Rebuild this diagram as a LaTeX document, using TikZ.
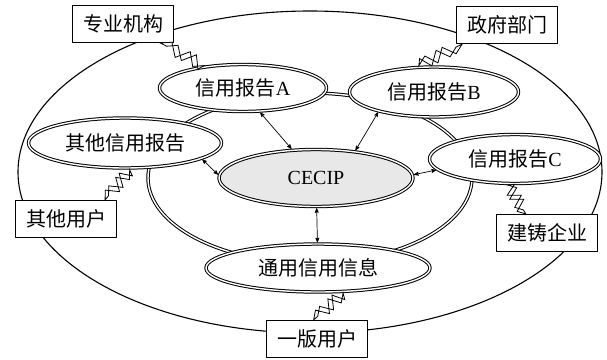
\documentclass[tikz,border=0pt]{standalone}
\usepackage{fontspec}
\setmainfont{Liberation Serif}
\newfontfamily\cjk{Noto Sans CJK SC}
\usetikzlibrary{arrows,calc,shapes.geometric}
\definecolor{ebebeb}{rgb}{0.91,0.91,0.91}

\begin{document}
\begin{tikzpicture}[line cap=round,line join=round,>=stealth',x=1pt,y=-1pt,
	every node/.style={font=\fontsize{20}{24}\selectfont},
	report/.style={ellipse,draw,fill=white,double,double distance=1.4pt,line width=1pt,inner sep=0pt,outer sep=1.7pt},
	party/.style={rectangle,draw,fill=white,line width=1.1pt,minimum width=101pt,minimum height=37pt,inner sep=0pt},
	bolt/.style={fill=white,line width=0.8pt,line join=miter,to path={
		-- ($(\tikztostart)!.20!(\tikztotarget)!6pt!90:(\tikztotarget)$)
		-- ($(\tikztostart)!.40!(\tikztotarget)!6pt!-90:(\tikztotarget)$)
		-- ($(\tikztostart)!.62!(\tikztotarget)!6pt!90:(\tikztotarget)$)
		-- ($(\tikztostart)!.80!(\tikztotarget)!6pt!-90:(\tikztotarget)$)
		-- (\tikztotarget)
		-- ($(\tikztostart)!.92!(\tikztotarget)!6pt!-90:(\tikztotarget)$)
		-- ($(\tikztostart)!.76!(\tikztotarget)!6pt!90:(\tikztotarget)$)
		-- ($(\tikztostart)!.54!(\tikztotarget)!6pt!-90:(\tikztotarget)$)
		-- ($(\tikztostart)!.34!(\tikztotarget)!6pt!90:(\tikztotarget)$)
		-- ($(\tikztostart)!.14!(\tikztotarget)$) -- cycle}},
	link/.style={<->,line width=0.7pt}]
	\useasboundingbox (0,0) rectangle (607,359);
		\draw[line width=1.1pt] (310,172) ellipse [x radius=292pt, y radius=161pt];
		\draw[double,double distance=1.4pt,line width=1pt] (310,178) ellipse [x radius=162pt, y radius=85pt];
		\node[report,minimum width=167pt,minimum height=47pt] (ra) at (243,88) {{\cjk 信用报告}A};
		\node[report,minimum width=169pt,minimum height=50pt] (rb) at (434,92) {{\cjk 信用报告}B};
		\node[report,minimum width=193pt,minimum height=50pt] (rq) at (125,143) {\cjk 其他信用报告};
		\node[report,minimum width=171pt,minimum height=49pt] (rc) at (515,159) {{\cjk 信用报告}C};
		\node[report,fill=ebebeb,minimum width=194pt,minimum height=57pt] (ce) at (316,178) {CECIP};
		\node[report,minimum width=224pt,minimum height=48pt] (ty) at (318,268) {\cjk 通用信用信息};
		\node[party] (zy) at (123,24) {\cjk 专业机构};
		\node[party] (zf) at (507,25) {\cjk 政府部门};
		\node[party] (qy) at (66,219) {\cjk 其他用户};
		\node[party] (jz) at (547,233) {\cjk 建铸企业};
		\node[party] (yb) at (317,339) {\cjk 一版用户};
		\draw[bolt] (zy.-27) to (ra.150);
		\draw[bolt] (zf.-157) to (rb.120);
		\draw[bolt] (qy.26) to (rq.-80);
		\draw[bolt] (jz.138) to (rc.-105);
		\draw[bolt] (yb.100) to (ty.-45);
		\draw[link] (ra.-55) -- (ce.130);
		\draw[link] (rb.-160) -- (ce.35);
		\draw[link] (rq.-12) -- (ce.178);
		\draw[link] (ce.2) -- (rc.-172);
		\draw[link] (ce) -- (ty);
\end{tikzpicture}
\end{document}
